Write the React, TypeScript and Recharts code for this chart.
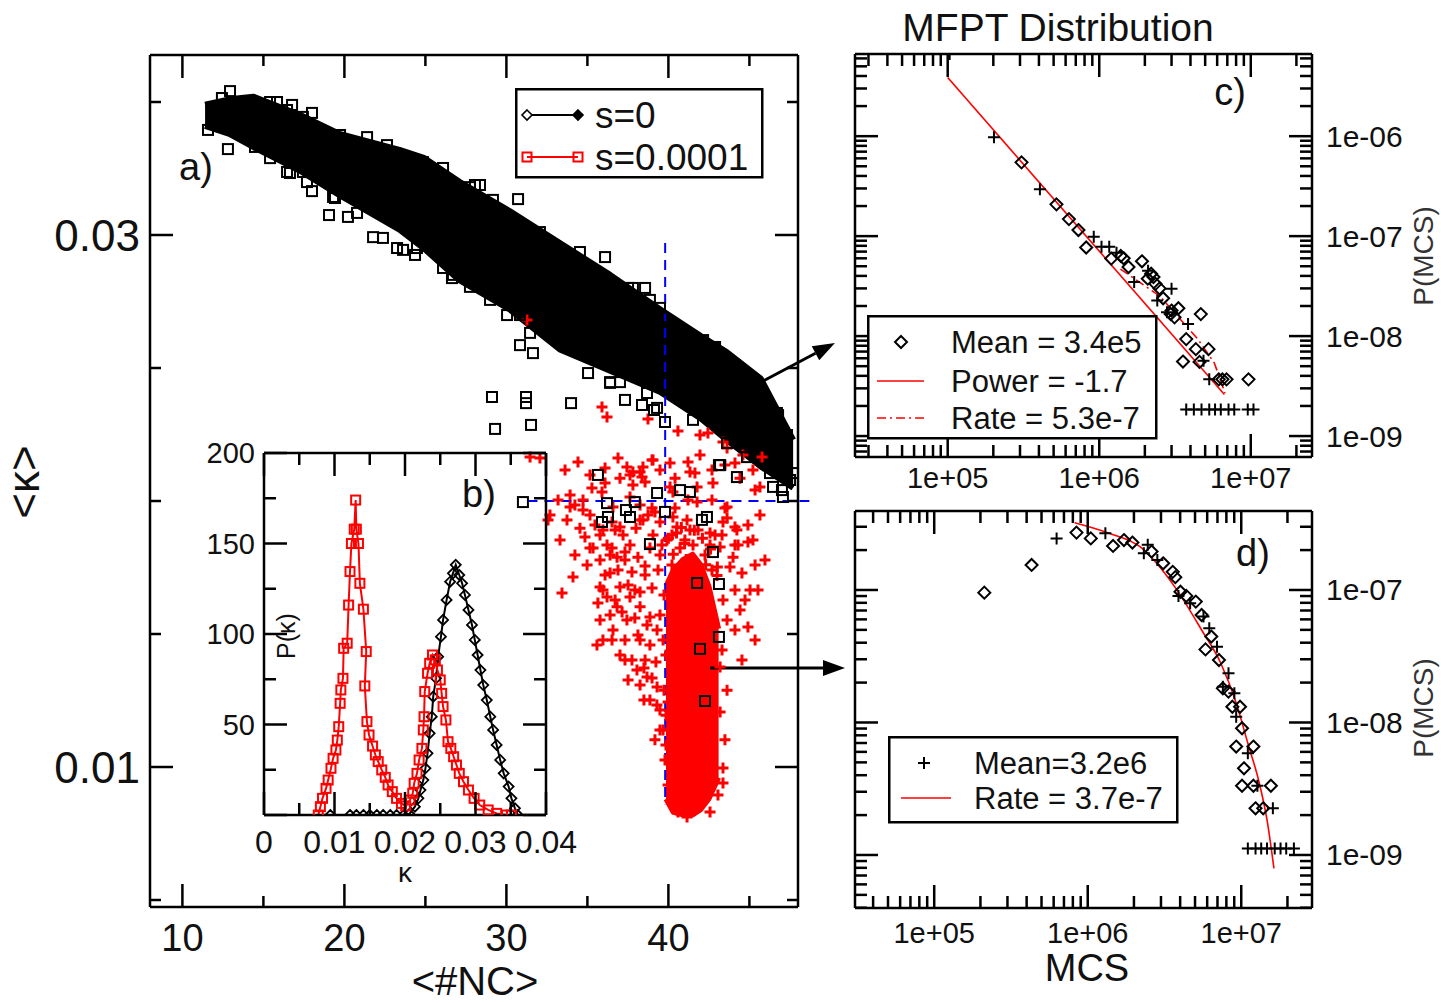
import React from "react";
import { ComposedChart, XAxis, YAxis, Scatter, Line, Area, ReferenceLine } from "recharts";

const W = 1441;
const H = 1003;
const FONT = '"Liberation Sans", Arial, Helvetica, sans-serif';
const RED = "#ff0000";
const BLUE = "#0000ff";

// ---------- panel a) <#NC> vs <kappa> ----------
const mainXTicks = [10, 15, 20, 25, 30, 35, 40, 45];
const mainXLabels = [10, 20, 30, 40];
const mainYTicks = [0.005, 0.01, 0.015, 0.02, 0.025, 0.03, 0.035];
const mainYLabels = [0.01, 0.03];

// dense s=0 cloud: [x, low, high]
const blackBand: [number, number, number][] = [
  [11.4, 0.0341, 0.0349], [12.9, 0.0338, 0.0351], [14.4, 0.0333, 0.0352],
  [17.3, 0.0324, 0.0345], [19.7, 0.0315, 0.0338], [23.4, 0.0302, 0.0332],
  [24.9, 0.0295, 0.0329], [27.1, 0.0283, 0.032], [30.2, 0.0272, 0.0309],
  [33.3, 0.0257, 0.0297], [36.4, 0.0249, 0.0285], [39.5, 0.0241, 0.0272],
  [42.0, 0.0231, 0.0262], [43.6, 0.0223, 0.0256], [45.7, 0.0213, 0.0246],
  [47.7, 0.0205, 0.0223],
];

// dense s=0.0001 core: [x, low, high]
const redBand: [number, number, number][] = [
  [39.85, 0.0088, 0.0168], [40.3, 0.0083, 0.0174], [40.9, 0.0082, 0.0178],
  [41.5, 0.0082, 0.018], [42.0, 0.0084, 0.0176], [42.5, 0.0088, 0.0168],
  [43.1, 0.0096, 0.0152],
];

// s=0 points outside the dense cloud and along its edges
const blackSquares: [number, number][] = [
  [11.58, 0.03395], [12.81, 0.03323], [12.94, 0.03541], [12.44, 0.03515], [16.77, 0.03489],
  [18.0, 0.03459], [14.48, 0.03331], [15.41, 0.03289], [16.64, 0.03233], [17.44, 0.03237],
  [18.0, 0.03165], [19.42, 0.03139], [19.05, 0.03075], [20.22, 0.03068], [20.78, 0.03083],
  [22.38, 0.02989], [23.62, 0.02944], [24.36, 0.02925], [26.64, 0.02838], [27.75, 0.02805],
  [28.06, 0.03188], [30.72, 0.03135], [36.09, 0.02917], [38.56, 0.02801], [37.51, 0.02801],
  [30.04, 0.02699], [28.99, 0.02756], [31.46, 0.02632], [30.84, 0.02586], [31.64, 0.02556],
  [35.04, 0.02481], [36.4, 0.02447], [37.01, 0.02447], [37.32, 0.0238], [38.37, 0.02361],
  [39.3, 0.0235], [39.79, 0.02297], [39.11, 0.02342], [29.11, 0.02391], [31.21, 0.02391],
  [31.21, 0.02368], [33.99, 0.02368], [29.3, 0.02271], [31.52, 0.02286], [44.11, 0.02511],
  [42.88, 0.02579], [46.77, 0.02323], [47.32, 0.02248], [43.12, 0.02135], [44.23, 0.0209],
  [35.65, 0.02098], [40.72, 0.02041], [41.33, 0.02034], [39.3, 0.0203], [46.46, 0.02053],
  [47.01, 0.02041], [31.02, 0.01996], [36.21, 0.01992], [47.94, 0.02105], [37.93, 0.01996],
  [37.38, 0.01966], [37.63, 0.0194], [36.27, 0.0194], [35.9, 0.01921], [39.79, 0.01959],
  [42.07, 0.01929], [42.38, 0.0194], [38.86, 0.01838], [42.75, 0.01808], [41.77, 0.01692],
  [43.12, 0.01688], [43.12, 0.01489], [41.95, 0.01444], [42.26, 0.01248], [43.19, 0.02135],
  [47.07, 0.02015],
  [12.94, 0.03489], [13.56, 0.03481], [15.41, 0.035], [15.84, 0.035], [16.46, 0.0347],
  [17.44, 0.03444], [18.06, 0.03402], [19.73, 0.03376], [21.4, 0.03368], [22.63, 0.03338],
  [23.86, 0.03289], [24.85, 0.03274], [26.09, 0.03252], [27.75, 0.0318], [28.37, 0.03188],
  [29.17, 0.03132], [32.07, 0.03011], [34.54, 0.02936], [37.81, 0.02801], [38.86, 0.02756],
  [39.48, 0.02726], [42.14, 0.02605], [42.75, 0.02579], [44.85, 0.02455], [46.7, 0.02331],
  [47.32, 0.02203],
  [16.46, 0.03237], [17.69, 0.03199], [19.3, 0.03143], [21.77, 0.02992], [23.25, 0.02951],
  [24.48, 0.02951], [26.09, 0.02876], [26.7, 0.0285], [30.84, 0.02699], [33.74, 0.02605],
  [34.98, 0.02556], [36.4, 0.02444], [38.68, 0.02406], [41.52, 0.02305], [43.62, 0.02218],
  [44.85, 0.02165], [46.27, 0.02105], [47.51, 0.02079],
];

// s=0.0001 points around the dense red core
const redPluses: [number, number][] = [
  [35.9, 0.02353], [36.21, 0.02316], [38.74, 0.02308], [40.59, 0.02263], [41.95, 0.02248],
  [42.44, 0.02256], [43.37, 0.02222], [43.62, 0.02199], [44.11, 0.02143], [44.6, 0.02173],
  [45.65, 0.02053], [45.22, 0.02117], [45.78, 0.02165], [31.27, 0.0268], [31.46, 0.02165],
  [32.07, 0.02162], [37.44, 0.02128], [37.81, 0.02109], [38.43, 0.02128], [38.99, 0.02154],
  [40.1, 0.02143], [38.37, 0.0209], [36.09, 0.02068], [35.28, 0.02049], [35.9, 0.02034],
  [37.81, 0.0206], [41.33, 0.02109], [41.77, 0.02053], [43.62, 0.01977], [40.28, 0.02034],
  [38.25, 0.02109], [39.05, 0.02154], [37.01, 0.02086], [34.23, 0.01985], [33.74, 0.01929],
  [34.54, 0.01898], [34.85, 0.01865], [32.57, 0.01929], [35.35, 0.01823], [36.21, 0.01835],
  [34.98, 0.01759], [34.11, 0.01714], [33.43, 0.01654], [35.78, 0.01677], [35.65, 0.01617],
  [35.59, 0.01459], [35.96, 0.01477], [38.06, 0.01365], [38.68, 0.01338], [39.3, 0.01301],
  [38.25, 0.01477], [43.49, 0.01974], [44.11, 0.01902], [43.37, 0.01921], [44.3, 0.01835],
  [43.8, 0.01752], [44.91, 0.01846], [45.35, 0.01759], [45.53, 0.01665], [44.91, 0.01526],
  [43.37, 0.01628], [43.62, 0.01553], [43.19, 0.01376], [43.19, 0.01207], [43.37, 0.00996],
  [43.37, 0.0094], [41.64, 0.00857], [41.15, 0.00812], [40.28, 0.00902], [39.67, 0.01139],
  [39.98, 0.01244], [41.64, 0.02105], [42.75, 0.02068], [41.15, 0.01929], [40.53, 0.01902],
  [39.05, 0.01872], [37.63, 0.01835], [36.83, 0.01789], [36.4, 0.01729], [37.01, 0.01677],
  [37.63, 0.01639], [38.25, 0.01602], [38.86, 0.01564], [39.3, 0.01515], [37.44, 0.01553],
  [36.83, 0.01602], [36.21, 0.01639], [39.91, 0.01853], [40.72, 0.01823], [41.52, 0.01835],
  [42.26, 0.01797], [42.69, 0.01741], [40.9, 0.01722], [40.22, 0.01759], [41.95, 0.01703],
  [41.33, 0.01891], [42.88, 0.01872], [39.48, 0.01797], [38.56, 0.01722], [37.93, 0.01665],
  [37.32, 0.01778], [36.71, 0.01891], [35.47, 0.0191], [38.25, 0.01929], [39.17, 0.01959],
  [40.41, 0.01974], [41.21, 0.02004], [42.69, 0.02004], [36.4, 0.01797], [35.78, 0.01553],
  [36.52, 0.01477], [37.32, 0.01402], [38.56, 0.01402], [38.86, 0.01252], [39.48, 0.01214],
  [39.17, 0.01102], [39.79, 0.01026], [39.98, 0.00932], [40.59, 0.00831], [42.57, 0.00831],
  [43.06, 0.00895], [43.49, 0.01102], [43.62, 0.01289], [43.31, 0.0144], [44.42, 0.0159],
  [44.11, 0.01665], [32.69, 0.01947], [33.19, 0.02004], [33.93, 0.02023], [34.73, 0.01966],
  [35.78, 0.01778], [36.52, 0.01823], [37.32, 0.01808], [38.12, 0.01789], [38.86, 0.01823],
  [39.6, 0.01835], [36.09, 0.01722], [36.89, 0.01741], [37.75, 0.01733], [38.56, 0.01756],
  [39.36, 0.01741], [35.96, 0.01665], [36.71, 0.01628], [37.51, 0.01684], [38.25, 0.01658],
  [38.99, 0.01673], [39.73, 0.01647], [36.4, 0.01571], [37.14, 0.01583], [37.93, 0.0156],
  [38.68, 0.01534], [39.48, 0.01571], [36.58, 0.01515], [37.32, 0.01477], [38.12, 0.01496],
  [38.86, 0.01459], [39.67, 0.01477], [37.01, 0.01421], [37.75, 0.01402], [38.49, 0.01372],
  [39.23, 0.01395], [39.85, 0.01421], [37.51, 0.01327], [38.25, 0.01308], [38.99, 0.01335],
  [39.73, 0.01289], [38.49, 0.01252], [39.29, 0.01233], [39.85, 0.01195], [39.48, 0.01139],
  [39.85, 0.01083],
  [33.93, 0.01977], [34.73, 0.02004], [35.16, 0.01947], [36.58, 0.01977], [37.63, 0.02015],
  [38.25, 0.01985], [38.99, 0.01974], [38.43, 0.01929], [37.01, 0.01902], [35.96, 0.01891],
  [40.1, 0.02053], [41.77, 0.01996], [43.62, 0.01936], [44.23, 0.01891], [45.22, 0.01853],
  [40.28, 0.0194], [42.57, 0.0188], [43.19, 0.01827], [43.99, 0.01789], [44.54, 0.01729],
  [43.02, 0.01752], [45.04, 0.01665],
  [40.0, 0.0186], [40.5, 0.0188], [41.0, 0.0184], [41.6, 0.0189], [42.1, 0.0186], [42.6, 0.0182],
  [40.3, 0.018], [41.1, 0.0178], [42.3, 0.0176], [43.0, 0.0172], [40.8, 0.019],
  [33.62, 0.02117], [34.42, 0.02147], [35.16, 0.02098], [36.09, 0.02124], [36.89, 0.02162],
  [37.63, 0.02098], [38.56, 0.02071], [39.48, 0.02117], [40.41, 0.02086], [41.21, 0.02147],
  [41.95, 0.02173], [42.69, 0.02117], [43.49, 0.02135], [44.42, 0.02086], [45.35, 0.02041],
  [33.31, 0.01853], [34.23, 0.01797], [35.16, 0.01823], [35.78, 0.01872], [36.52, 0.01921],
  [37.2, 0.01872], [38.0, 0.01898], [38.74, 0.01947], [39.48, 0.01921], [40.22, 0.01872],
  [41.02, 0.01853], [41.83, 0.01891], [42.57, 0.01835], [43.31, 0.01872], [44.11, 0.01835],
  [44.91, 0.0191], [45.65, 0.01947], [45.96, 0.01778], [44.73, 0.01628], [44.11, 0.01515],
  [45.35, 0.01477], [44.54, 0.01402],
];

// ---------- panel b) P(kappa) ----------
const insetXTicks = [0, 0.005, 0.01, 0.015, 0.02, 0.025, 0.03, 0.035, 0.04];
const insetXLabels = [0, 0.01, 0.02, 0.03, 0.04];
const insetYTicks = [0, 25, 50, 75, 100, 125, 150, 175, 200];
const insetYLabels = [50, 100, 150, 200];

const kappaS0: [number, number][] = [
  [0.0094, 0], [0.0122, 0], [0.0131, 0], [0.0141, 0], [0.015, 0], [0.016, 0], [0.0169, 0],
  [0.0179, 0], [0.0188, 0], [0.0198, 0], [0.0206, 0.5], [0.0214, 4.6], [0.0219, 9.2],
  [0.0222, 13.8], [0.0226, 19.3], [0.0229, 25.8], [0.0232, 34.1], [0.0235, 45.1], [0.0238, 54.3],
  [0.024, 65.4], [0.0244, 75.5], [0.0247, 87.5], [0.0251, 98.5], [0.0254, 107.8], [0.0259, 118.8],
  [0.0264, 128.9], [0.0268, 133.5], [0.0272, 138.2], [0.0277, 132.6], [0.0281, 128.0],
  [0.0285, 121.6], [0.029, 113.3], [0.0295, 105.0], [0.0299, 96.7], [0.0303, 88.4], [0.0307, 80.1],
  [0.0311, 71.8], [0.0316, 63.5], [0.0321, 54.3], [0.0325, 47.0], [0.033, 38.7], [0.0335, 30.4],
  [0.034, 23.0], [0.0347, 15.7], [0.0351, 9.2], [0.0356, 3.7], [0.036, 0],
];
const kappaS1: [number, number][] = [
  [0.0077, 0], [0.008, 4.6], [0.0083, 9.2], [0.0088, 14.7], [0.0091, 19.3], [0.0095, 25.8],
  [0.0098, 31.3], [0.0102, 35.9], [0.0104, 41.4], [0.0106, 48.8], [0.0108, 61.7], [0.0109, 69.1],
  [0.0112, 75.5], [0.0113, 92.1], [0.0118, 94.9], [0.012, 116], [0.0122, 134.5], [0.0124, 150],
  [0.0128, 157.9], [0.013, 174], [0.0131, 157.9], [0.0134, 150], [0.0136, 128], [0.0141, 113.7],
  [0.0145, 90.3], [0.0143, 71.3], [0.0146, 51.6], [0.0149, 44.2], [0.0154, 38.1], [0.0158, 33.2],
  [0.0162, 29.5], [0.0167, 24.9], [0.0172, 20.8], [0.0176, 16.6], [0.0182, 12.9], [0.0188, 9.2],
  [0.0195, 6.4], [0.0201, 5.0], [0.0207, 8.3], [0.0211, 12.0], [0.0213, 17.5], [0.0217, 23.0],
  [0.022, 30.4], [0.0224, 36.8], [0.0226, 47.0], [0.0227, 54.3], [0.0228, 68.2], [0.0232, 78.3],
  [0.0235, 83.8], [0.0239, 88.4], [0.0243, 85.7], [0.0246, 80.1], [0.025, 74.6], [0.0252, 67.2],
  [0.0254, 59.9], [0.0258, 52.5], [0.0261, 40.5], [0.0265, 36.8], [0.0269, 32.2], [0.0273, 27.6],
  [0.0277, 23.0], [0.0283, 18.4], [0.029, 13.8], [0.0298, 9.2], [0.0306, 5.5], [0.0318, 2.8],
  [0.033, 0.9], [0.0344, 0], [0.0351, 0],
];

// ---------- panel c) MFPT distribution, s=0 ----------
const cXTicks = [3e4, 4e4, 5e4, 6e4, 7e4, 8e4, 9e4, 1e5, 2e5, 3e5, 4e5, 5e5, 6e5, 7e5, 8e5, 9e5,
  1e6, 2e6, 3e6, 4e6, 5e6, 6e6, 7e6, 8e6, 9e6, 1e7, 2e7];
const cYTicks = [7e-10, 8e-10, 9e-10, 1e-9, 2e-9, 3e-9, 4e-9, 5e-9, 6e-9, 7e-9, 8e-9, 9e-9,
  1e-8, 2e-8, 3e-8, 4e-8, 5e-8, 6e-8, 7e-8, 8e-8, 9e-8, 1e-7, 2e-7, 3e-7, 4e-7, 5e-7, 6e-7, 7e-7,
  8e-7, 9e-7, 1e-6, 2e-6, 3e-6, 4e-6, 5e-6, 6e-6];
const cDiamonds: [number, number][] = [
  [3.07e5, 5.47e-7], [5.22e5, 2.08e-7], [6.31e5, 1.48e-7], [7.29e5, 1.15e-7], [8.2e5, 7.69e-8],
  [1.2e6, 5.96e-8], [1.387e6, 6.34e-8], [1.45e6, 6.0e-8], [1.56e6, 4.91e-8], [1.914e6, 5.6e-8],
  [2.09e6, 3.75e-8], [2.2e6, 4.2e-8], [2.28e6, 3.9e-8], [2.35e6, 3.33e-8], [2.5e6, 3.0e-8],
  [2.64e6, 2.39e-8], [2.96e6, 1.66e-8], [3.0e6, 1.8e-8], [3.33e6, 1.9e-8], [3.14e6, 1.54e-8],
  [4.68e6, 1.66e-8], [3.75e6, 9.33e-9], [4.34e6, 7.4e-9], [5.26e6, 7.4e-9], [3.57e6, 5.56e-9],
  [4.59e6, 5.52e-9], [6.15e6, 3.69e-9], [6.5e6, 3.69e-9], [6.92e6, 3.69e-9], [9.66e6, 3.69e-9],
];
const cPluses: [number, number][] = [
  [1.03e5, 6.64e-6], [2.02e5, 9.77e-7], [4.06e5, 2.95e-7], [9.2e5, 9.84e-8], [1.035e6, 7.82e-8],
  [1.164e6, 7.82e-8], [1.3e6, 6.8e-8], [1.7e6, 3.47e-8], [2.1e6, 4.5e-8], [2.415e6, 2.27e-8],
  [3.0e6, 2.97e-8], [2.8e6, 1.73e-8], [3.855e6, 1.32e-8], [4.875e6, 5.65e-9], [5.32e6, 3.69e-9],
  [3.75e6, 1.84e-9], [4.21e6, 1.84e-9], [4.73e6, 1.84e-9], [5.32e6, 1.84e-9], [5.81e6, 1.84e-9],
  [6.34e6, 1.84e-9], [7.13e6, 1.84e-9], [7.78e6, 1.84e-9], [9.55e6, 1.84e-9], [1.042e7, 1.84e-9],
];
const cPowerFit: [number, number][] = [[1e5, 3.86e-6], [6.7e6, 2.6e-9]];
const cRateFit: [number, number][] = [
  [1.38e6, 4.68e-8], [2.51e6, 2.51e-8], [4.47e6, 9.33e-9], [5.75e6, 5.37e-9], [6.76e6, 2.69e-9],
];

// ---------- panel d) MFPT distribution, s=0.0001 ----------
const dXTicks = [4e4, 5e4, 6e4, 7e4, 8e4, 9e4, 1e5, 2e5, 3e5, 4e5, 5e5, 6e5, 7e5, 8e5, 9e5,
  1e6, 2e6, 3e6, 4e6, 5e6, 6e6, 7e6, 8e6, 9e6, 1e7, 2e7];
const dYTicks = [4e-10, 5e-10, 6e-10, 7e-10, 8e-10, 9e-10, 1e-9, 2e-9, 3e-9, 4e-9, 5e-9, 6e-9,
  7e-9, 8e-9, 9e-9, 1e-8, 2e-8, 3e-8, 4e-8, 5e-8, 6e-8, 7e-8, 8e-8, 9e-8, 1e-7, 2e-7, 3e-7];
const dDiamonds: [number, number][] = [
  [2.12e5, 9.55e-8], [4.31e5, 1.545e-7], [8.45e5, 2.71e-7], [1.047e6, 2.45e-7], [1.462e6, 2.15e-7],
  [1.722e6, 2.38e-7], [1.954e6, 2.28e-7], [2.606e6, 1.95e-7], [3.1e6, 1.59e-7], [3.58e6, 1.37e-7],
  [3.72e6, 1.25e-7], [4.02e6, 9.7e-8], [4.385e6, 9.02e-8], [5.06e6, 8.17e-8], [5.52e6, 6.47e-8],
  [5.85e6, 3.56e-8], [6.38e6, 4.45e-8], [7.16e6, 2.96e-8], [7.59e6, 1.81e-8], [8.26e6, 1.71e-8],
  [8.75e6, 1.315e-8], [9.82e6, 1.315e-8], [1.012e7, 9.04e-9], [9.27e6, 6.58e-9], [1.2e7, 6.58e-9],
  [1.042e7, 4.51e-9], [1.012e7, 3.33e-9], [1.2e7, 3.33e-9], [1.56e7, 3.33e-9], [1.239e7, 2.25e-9],
  [1.39e7, 2.25e-9],
];
const dPluses: [number, number][] = [
  [6.27e5, 2.45e-7], [1.303e6, 2.68e-7], [2.46e6, 2.19e-7], [2.32e6, 1.89e-7], [2.84e6, 1.68e-7],
  [3.9e6, 9.02e-8], [4.645e6, 7.93e-8], [5.675e6, 6.3e-8], [6.19e6, 5.14e-8], [6.95e6, 3.73e-8],
  [8.26e6, 2.35e-8], [7.59e6, 1.86e-8], [9.02e6, 1.66e-8], [9.27e6, 1.107e-8], [1.104e7, 5.85e-9],
  [1.274e7, 3.33e-9], [1.607e7, 2.25e-9], [1.104e7, 1.12e-9], [1.239e7, 1.12e-9], [1.349e7, 1.12e-9],
  [1.472e7, 1.12e-9], [1.652e7, 1.12e-9], [1.803e7, 1.12e-9], [1.963e7, 1.12e-9], [2.203e7, 1.12e-9],
];
const dRateFit: [number, number][] = [
  [8.22e5, 3.22e-7], [1.38e6, 2.68e-7], [2.19e6, 2.12e-7], [3.68e6, 1.06e-7], [5.52e6, 4.99e-8],
  [7.36e6, 2.8e-8], [9.27e6, 1.4e-8], [1.104e7, 6.97e-9], [1.312e7, 3.48e-9], [1.472e7, 1.84e-9],
  [1.633e7, 7.93e-10],
];

const pts = (a: [number, number][]) => a.map(([x, y]) => ({ x, y }));

// ---------- marks ----------
const square = (color: string, h: number, sw: number) => (p: any) => (
  <rect x={p.cx - h} y={p.cy - h} width={2 * h} height={2 * h} fill="none" stroke={color} strokeWidth={sw} />
);
const plus = (color: string, h: number, sw: number) => (p: any) => (
  <path d={`M${p.cx - h},${p.cy}H${p.cx + h}M${p.cx},${p.cy - h}V${p.cy + h}`} stroke={color} strokeWidth={sw} fill="none" />
);
const diamond = (color: string, h: number, sw: number, fill = "none") => (p: any) => (
  <path d={`M${p.cx},${p.cy - h}L${p.cx + h},${p.cy}L${p.cx},${p.cy + h}L${p.cx - h},${p.cy}Z`} stroke={color} strokeWidth={sw} fill={fill} />
);

// ---------- ticks drawn inward on both opposite edges, labels outward ----------
interface TickOpt {
  side: "bottom" | "left";
  far: number; // pixel position of the opposite edge (top or right)
  isMajor: (v: number) => boolean;
  label?: (v: number) => string | null;
  labelFar?: boolean;
  major: number;
  minor: number;
  size?: number;
  off?: number;
}
function makeTick(o: TickOpt) {
  return (p: any) => {
    const { x, y, payload } = p;
    const v = payload.value as number;
    const len = o.isMajor(v) ? o.major : o.minor;
    const txt = o.label ? o.label(v) : null;
    const off = o.off ?? 0;
    const ls = { stroke: "#000", strokeWidth: 2.5 };
    const tp = { fontSize: o.size, fill: "#111", fontFamily: FONT, dominantBaseline: "central" as const };
    if (o.side === "bottom") {
      return (
        <g>
          <line x1={x} y1={y} x2={x} y2={y - len} {...ls} />
          <line x1={x} y1={o.far} x2={x} y2={o.far + len} {...ls} />
          {txt && <text x={x} y={y + off} textAnchor="middle" {...tp}>{txt}</text>}
        </g>
      );
    }
    return (
      <g>
        <line x1={x} y1={y} x2={x + len} y2={y} {...ls} />
        <line x1={o.far} y1={y} x2={o.far - len} y2={y} {...ls} />
        {txt && (o.labelFar
          ? <text x={o.far + off} y={y} textAnchor="start" {...tp}>{txt}</text>
          : <text x={x - off} y={y} textAnchor="end" {...tp}>{txt}</text>)}
      </g>
    );
  };
}

const near = (list: number[]) => (v: number) => list.some((m) => Math.abs(m - v) < 1e-9);
const isDecade = (v: number) => Math.abs(Math.log10(v) - Math.round(Math.log10(v))) < 1e-6;
const expLabel = (v: number) => {
  if (!isDecade(v)) return null;
  const e = Math.round(Math.log10(v));
  return "1e" + (e < 0 ? "-" : "+") + String(Math.abs(e)).padStart(2, "0");
};

const axisLine = { stroke: "#000", strokeWidth: 2.5 };
const axisBase = {
  type: "number" as const,
  allowDataOverflow: true,
  interval: 0 as const,
  tickSize: 0,
  tickMargin: 0,
  tickLine: false,
  axisLine,
};
type Box = { l: number; t: number; r: number; b: number };
const marginFor = (b: Box) => ({
  left: b.l - 1, top: b.t - 1, right: W - b.r - 1, bottom: H - b.b - 1,
});

// top and right frame lines (ticks for them are drawn by the bottom/left axes)
const frame = (xDom: [number, number], yDom: [number, number], log = false) => [
  <XAxis key="ft" xAxisId="top" orientation="top" type="number" scale={log ? "log" : "auto"} domain={xDom}
    allowDataOverflow height={1} tick={false} tickLine={false} axisLine={axisLine} />,
  <YAxis key="fr" yAxisId="right" orientation="right" type="number" scale={log ? "log" : "auto"} domain={yDom}
    allowDataOverflow width={1} tick={false} tickLine={false} axisLine={axisLine} />,
];

const Arrow = (p: any) => {
  const { x1, y1, x2, y2 } = p;
  const a = Math.atan2(y2 - y1, x2 - x1);
  const L = 22;
  const hw = 8;
  const bx = x2 - L * Math.cos(a);
  const by = y2 - L * Math.sin(a);
  const nx = -Math.sin(a) * hw;
  const ny = Math.cos(a) * hw;
  return (
    <g>
      <line x1={x1} y1={y1} x2={bx} y2={by} stroke="#000" strokeWidth={3} />
      <polygon points={`${x2},${y2} ${bx + nx},${by + ny} ${bx - nx},${by - ny}`} fill="#000" />
    </g>
  );
};

function Txt({ x, y, size, children, rotate, color }: { x: number; y: number; size: number; children: React.ReactNode; rotate?: number; color?: string }) {
  return (
    <div style={{
      position: "absolute", left: x, top: y, fontSize: size, lineHeight: 1, whiteSpace: "nowrap",
      color: color ?? "#111", transform: `translate(-50%, -50%)${rotate ? ` rotate(${rotate}deg)` : ""}`,
    }}>{children}</div>
  );
}

const layer: React.CSSProperties = { position: "absolute", left: 0, top: 0 };

function MainPanel() {
  const box: Box = { l: 150, t: 55, r: 798, b: 907 };
  const rows = [
    ...blackBand.map(([x, lo, hi]) => ({ x, band: [lo, hi] })),
    ...redBand.map(([x, lo, hi]) => ({ x, core: [lo, hi] })),
  ];
  const xMaj = near(mainXLabels);
  const yMaj = near(mainYLabels);
  const xDom: [number, number] = [8, 48];
  const yDom: [number, number] = [0.004737, 0.036767];
  return (
    <div style={layer}>
      <ComposedChart width={W} height={H} data={rows} margin={marginFor(box)}>
        <XAxis {...axisBase} dataKey="x" domain={xDom} ticks={mainXTicks} height={1}
          tick={makeTick({ side: "bottom", far: box.t, isMajor: xMaj, label: (v) => (xMaj(v) ? String(v) : null), major: 23, minor: 11, size: 38, off: 31 })} />
        <YAxis {...axisBase} dataKey="y" domain={yDom} ticks={mainYTicks} width={1}
          tick={makeTick({ side: "left", far: box.r, isMajor: yMaj, label: (v) => (yMaj(v) ? v.toFixed(2) : null), major: 23, minor: 11, size: 44, off: 10 })} />
        {frame(xDom, yDom)}
        <Area type="linear" dataKey="band" stroke="#000" strokeWidth={6} strokeLinejoin="round" fill="#000" fillOpacity={1}
          connectNulls dot={false} activeDot={false} isAnimationActive={false} />
        <Area type="linear" dataKey="core" stroke={RED} strokeWidth={5} strokeLinejoin="round" fill={RED} fillOpacity={1}
          connectNulls dot={false} activeDot={false} isAnimationActive={false} />
        <Scatter data={pts(redPluses)} shape={plus(RED, 5.5, 3)} isAnimationActive={false} />
        <Scatter data={pts(blackSquares)} shape={square("#000", 5, 2)} isAnimationActive={false} />
        <ReferenceLine segment={[{ x: 39.8, y: 0.0297 }, { x: 39.8, y: 0.0086 }]} stroke={BLUE} strokeWidth={2} strokeDasharray="10 7" ifOverflow="visible" />
        <ReferenceLine segment={[{ x: 31.3, y: 0.02 }, { x: 48.7, y: 0.02 }]} stroke={BLUE} strokeWidth={2} strokeDasharray="10 7" ifOverflow="visible" />
        <ReferenceLine segment={[{ x: 45.04, y: 0.02425 }, { x: 50.28, y: 0.02594 }]} ifOverflow="visible" shape={Arrow} />
        <ReferenceLine segment={[{ x: 42.57, y: 0.01372 }, { x: 50.9, y: 0.01372 }]} ifOverflow="visible" shape={Arrow} />
      </ComposedChart>
    </div>
  );
}

function InsetPanel() {
  const box: Box = { l: 264, t: 453, r: 546, b: 815 };
  const xMaj = (v: number) => Math.abs(v / 0.01 - Math.round(v / 0.01)) < 1e-6;
  const yMaj = (v: number) => v % 50 === 0;
  const xLab = near(insetXLabels);
  const yLab = near(insetYLabels);
  const xDom: [number, number] = [0, 0.04];
  const yDom: [number, number] = [0, 200];
  return (
    <div style={layer}>
      <ComposedChart width={W} height={H} margin={marginFor(box)}>
        <XAxis {...axisBase} dataKey="x" domain={xDom} ticks={insetXTicks} height={1}
          tick={makeTick({ side: "bottom", far: box.t, isMajor: xMaj, label: (v) => (xLab(v) ? (v === 0 ? "0" : v.toFixed(2)) : null), major: 23, minor: 12, size: 32, off: 27 })} />
        <YAxis {...axisBase} dataKey="y" domain={yDom} ticks={insetYTicks} width={1}
          tick={makeTick({ side: "left", far: box.r, isMajor: yMaj, label: (v) => (yLab(v) ? String(v) : null), major: 23, minor: 12, size: 29, off: 9 })} />
        {frame(xDom, yDom)}
        <Line data={pts(kappaS0)} dataKey="y" type="linear" stroke="#000" strokeWidth={2}
          dot={diamond("#000", 5, 1.8)} activeDot={false} isAnimationActive={false} />
        <Line data={pts(kappaS1)} dataKey="y" type="linear" stroke={RED} strokeWidth={2}
          dot={square(RED, 4.5, 2)} activeDot={false} isAnimationActive={false} />
      </ComposedChart>
    </div>
  );
}

function LogPanel({ box, xDom, yDom, xTicks, yTicks, labelOff, children }: {
  box: Box; xDom: [number, number]; yDom: [number, number]; xTicks: number[]; yTicks: number[];
  labelOff: number; children: React.ReactNode;
}) {
  return (
    <div style={layer}>
      <ComposedChart width={W} height={H} margin={marginFor(box)}>
        <XAxis {...axisBase} dataKey="x" scale="log" domain={xDom} ticks={xTicks} height={1}
          tick={makeTick({ side: "bottom", far: box.t, isMajor: isDecade, label: expLabel, major: 23, minor: 12, size: 29, off: labelOff })} />
        <YAxis {...axisBase} dataKey="y" scale="log" domain={yDom} ticks={yTicks} width={1}
          tick={makeTick({ side: "left", far: box.r, isMajor: isDecade, label: expLabel, labelFar: true, major: 23, minor: 12, size: 30, off: 14 })} />
        {frame(xDom, yDom, true)}
        {children}
      </ComposedChart>
    </div>
  );
}

export default function App() {
  return (
    <div style={{ position: "absolute", left: 0, top: 0, width: W, height: H, background: "#fff", fontFamily: FONT, overflow: "hidden" }}>
      <MainPanel />
      <InsetPanel />

      <LogPanel box={{ l: 855, t: 54, r: 1312, b: 457 }} xDom={[24450, 2.535e7]} yDom={[6.17e-10, 6.64e-6]}
        xTicks={cXTicks} yTicks={cYTicks} labelOff={21}>
        <Line data={pts(cPowerFit)} dataKey="y" type="linear" stroke={RED} strokeWidth={1.6} dot={false} activeDot={false} isAnimationActive={false} />
        <Line data={pts(cRateFit)} dataKey="y" type="linear" stroke={RED} strokeWidth={1.6} strokeDasharray="9 4 2 4" dot={false} activeDot={false} isAnimationActive={false} />
        <Scatter data={pts(cDiamonds)} shape={diamond("#000", 6, 2)} isAnimationActive={false} />
        <Scatter data={pts(cPluses)} shape={plus("#000", 6, 2)} isAnimationActive={false} />
      </LogPanel>

      <LogPanel box={{ l: 855, t: 511, r: 1312, b: 908 }} xDom={[30480, 2.89e7]} yDom={[3.98e-10, 3.945e-7]}
        xTicks={dXTicks} yTicks={dYTicks} labelOff={25}>
        <Line data={pts(dRateFit)} dataKey="y" type="monotone" stroke={RED} strokeWidth={1.6} dot={false} activeDot={false} isAnimationActive={false} />
        <Scatter data={pts(dDiamonds)} shape={diamond("#000", 6, 2)} isAnimationActive={false} />
        <Scatter data={pts(dPluses)} shape={plus("#000", 6, 2)} isAnimationActive={false} />
      </LogPanel>

      {/* legend a) */}
      <svg style={{ position: "absolute", left: 515, top: 88 }} width={250} height={92}>
        <rect x={1.25} y={1.25} width={246} height={88} fill="#fff" stroke="#000" strokeWidth={2.5} />
        <line x1={12} y1={27} x2={63} y2={27} stroke="#000" strokeWidth={2} />
        {diamond("#000", 5, 1.6, "#fff")({ cx: 12, cy: 27 })}
        {diamond("#000", 5, 1.6, "#000")({ cx: 63, cy: 27 })}
        <text x={80} y={27} fontSize={37} dominantBaseline="central" fontFamily={FONT} fill="#111">s=0</text>
        <line x1={12} y1={69} x2={63} y2={69} stroke={RED} strokeWidth={2} />
        {square(RED, 4.5, 2)({ cx: 12, cy: 69 })}
        {square(RED, 4.5, 2)({ cx: 63, cy: 69 })}
        <text x={80} y={69} fontSize={37} dominantBaseline="central" fontFamily={FONT} fill="#111">s=0.0001</text>
      </svg>

      {/* legend c) */}
      <svg style={{ position: "absolute", left: 867, top: 315 }} width={292} height={126}>
        <rect x={1.25} y={1.25} width={288} height={122} fill="#fff" stroke="#000" strokeWidth={2.5} />
        {diamond("#000", 6, 2)({ cx: 34, cy: 27 })}
        <text x={84} y={27} fontSize={31} dominantBaseline="central" fontFamily={FONT} fill="#111">Mean = 3.4e5</text>
        <line x1={10} y1={66} x2={57} y2={66} stroke={RED} strokeWidth={1.6} />
        <text x={84} y={66} fontSize={31} dominantBaseline="central" fontFamily={FONT} fill="#111">Power = -1.7</text>
        <line x1={10} y1={103} x2={57} y2={103} stroke={RED} strokeWidth={1.6} strokeDasharray="9 4 2 4" />
        <text x={84} y={103} fontSize={31} dominantBaseline="central" fontFamily={FONT} fill="#111">Rate = 5.3e-7</text>
      </svg>

      {/* legend d) */}
      <svg style={{ position: "absolute", left: 888, top: 736 }} width={292} height={88}>
        <rect x={1.25} y={1.25} width={288} height={85} fill="#fff" stroke="#000" strokeWidth={2.5} />
        {plus("#000", 6, 2)({ cx: 36, cy: 27 })}
        <text x={86} y={27} fontSize={31} dominantBaseline="central" fontFamily={FONT} fill="#111">Mean=3.2e6</text>
        <line x1={13} y1={62} x2={63} y2={62} stroke={RED} strokeWidth={1.6} />
        <text x={86} y={62} fontSize={31} dominantBaseline="central" fontFamily={FONT} fill="#111">Rate = 3.7e-7</text>
      </svg>

      <Txt x={1058} y={27} size={39}>MFPT Distribution</Txt>
      <Txt x={475} y={981} size={40}>&lt;#NC&gt;</Txt>
      <Txt x={24} y={482} size={44} rotate={-90}>&lt;κ&gt;</Txt>
      <Txt x={196} y={167} size={38}>a)</Txt>
      <Txt x={479} y={494} size={38}>b)</Txt>
      <Txt x={1230} y={92} size={38}>c)</Txt>
      <Txt x={1253} y={553} size={38}>d)</Txt>
      <Txt x={405} y={873} size={28}>κ</Txt>
      <Txt x={286} y={636} size={25} rotate={-90}>P(κ)</Txt>
      <Txt x={1424} y={256} size={28} rotate={-90} color="#333">P(MCS)</Txt>
      <Txt x={1424} y={708} size={28} rotate={-90} color="#333">P(MCS)</Txt>
      <Txt x={1087} y={968} size={38}>MCS</Txt>
    </div>
  );
}
